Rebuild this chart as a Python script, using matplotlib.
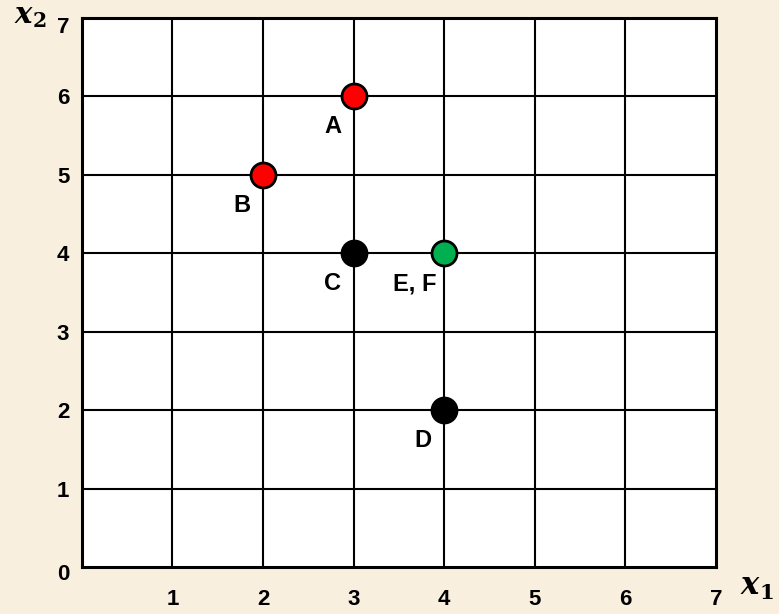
"""Feasible points on a 7x7 grid: A-F plotted in the x1-x2 plane."""
import matplotlib
matplotlib.use("Agg")
import matplotlib.pyplot as plt
from matplotlib.transforms import ScaledTranslation

plt.rcParams["font.family"] = ["Liberation Sans", "DejaVu Sans"]
plt.rcParams["mathtext.fontset"] = "dejavuserif"

BG = "#F8EFDE"

# points and their labels
labels = ["A", "B", "C", "D", "E, F"]
x1 = [3, 2, 3, 4, 4]
x2 = [6, 5, 4, 2, 4]
colors = ["#FF0000", "#FF0000", "#000000", "#000000", "#00B050"]

ticks = [1, 2, 3, 4, 5, 6, 7]
tick_labels = ["1", "2", "3", "4", "5", "6", "7"]

fig = plt.figure(figsize=(7.79, 6.14), dpi=100, facecolor=BG)
ax = fig.add_axes([0.105, 0.0765, 0.814, 0.8945])
ax.set_facecolor("white")
ax.set_xlim(0, 7)
ax.set_ylim(0, 7)

for v in ticks[:-1]:
    ax.axvline(v, color="black", lw=1.5, zorder=1)
    ax.axhline(v, color="black", lw=1.5, zorder=1)
for s in ax.spines.values():
    s.set_linewidth(2.2)

ax.set_xticks(ticks, tick_labels, fontsize=16, fontweight="bold")
ax.set_yticks(ticks, tick_labels, fontsize=16, fontweight="bold")
ax.tick_params(length=0)
ax.tick_params(axis="y", pad=9)
ax.tick_params(axis="x", pad=16)
# top "7" sits a little below its gridline in the original
top = ax.get_yticklabels()[-1]
top.set_transform(top.get_transform()
                  + ScaledTranslation(0, -5 / 72, fig.dpi_scale_trans))
ax.text(-0.14, -0.1, "0", ha="right", va="center", fontsize=16,
        fontweight="bold")

for xv, yv, c, lab in zip(x1, x2, colors, labels):
    ax.plot(xv, yv, "o", ms=18, mfc=c, mec="black", mew=2, zorder=3,
            clip_on=False)
    dx = -21 if lab == "E, F" else -15
    ax.annotate(lab, (xv, yv), xytext=(dx, -22),
                textcoords="offset points", ha="center", va="center",
                fontsize=17, fontweight="bold")

ax.text(7.27, -0.357, r"$\boldsymbol{x}_\mathbf{1}$", fontsize=22,
        ha="left", va="baseline", clip_on=False)
ax.text(-0.75, 6.93, r"$\boldsymbol{x}_\mathbf{2}$", fontsize=21,
        ha="left", va="baseline", clip_on=False)

fig.savefig("out.png", dpi=100, facecolor=BG)
